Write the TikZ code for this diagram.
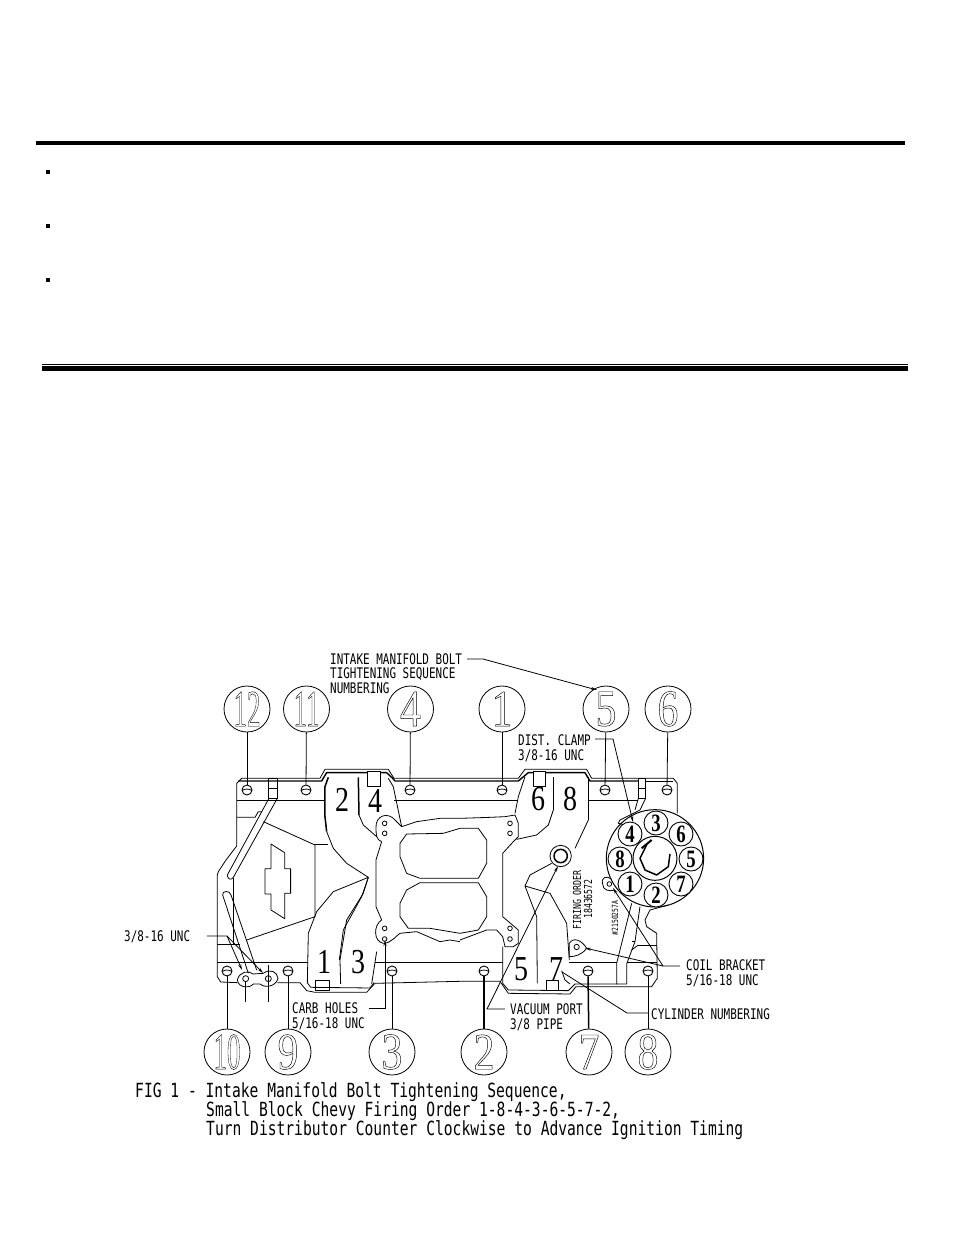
\documentclass[tikz,border=0pt]{standalone}
\usepackage{fontspec}
\usetikzlibrary{arrows.meta}
\setmainfont{Liberation Serif}
\newfontfamily\cadfont[FakeStretch=0.75]{DejaVu Sans Mono}
\newfontfamily\numfont[FakeStretch=0.8]{Liberation Serif}
\newfontfamily\cylfont[FakeStretch=0.75]{Liberation Serif Bold}
\newcommand{\hollow}[1]{\special{pdf:code 1 Tr 0.45 w}#1\special{pdf:code 0 Tr 0.8 w}}
\tikzset{
  thin line/.style={line width=0.8pt},
  heavy line/.style={line width=1.5pt},
  lead/.style={line width=0.8pt,-{Stealth[length=6pt,width=3pt]}},
  seqcircle/.style={circle,draw,line width=0.8pt,minimum size=46pt,inner sep=0pt,font=\numfont\fontsize{52}{52}\selectfont},
  cylcircle/.style={circle,draw,fill=white,line width=0.9pt,minimum size=24pt,inner sep=0pt,font=\cylfont\fontsize{25}{25}\selectfont},
  bolthole/.style={circle,draw,line width=0.9pt,minimum size=10pt,inner sep=0pt,
    path picture={\draw[line width=0.8pt] ([yshift=-0.5pt]path picture bounding box.west) to[bend left=30] ([yshift=-0.5pt]path picture bounding box.east);}},
  cadlabel/.style={anchor=west,inner sep=0pt,align=left,font=\cadfont\fontsize{14.6}{14.6}\selectfont},
  castmark/.style={rotate=90,inner sep=0pt,font=\cadfont\fontsize{11}{11}\selectfont},
  caption/.style={anchor=west,inner sep=0pt,text height=12pt,text depth=3pt,font=\cadfont\fontsize{19.5}{19.5}\selectfont},
  block/.style={font=\numfont\fontsize{35}{35}\selectfont,inner sep=0pt}
}
\begin{document}
\begin{tikzpicture}[x=1pt,y=-1pt]
\useasboundingbox (0,0) rectangle (954,1235);

%% rules and bullets
\fill (36,141) rectangle (905,145);
\fill (45.5,169.5) rectangle (50,173.8);
\fill (45.5,223.5) rectangle (50,227.8);
\fill (45.5,277.5) rectangle (50,281.8);
\fill (42,364) rectangle (908,365);
\fill (42,366) rectangle (908,370.7);

%% left half of the manifold
\begin{scope}[shift={(200,760)},x=0.3333pt,y=-0.3333pt,thin line,line join=round]
  %% outer edge
  \draw (780,55) -- (582,55) -- (565,28) -- (375,28) -- (360,55) -- (125,55) -- (110,70) -- (110,258) -- (78,300) -- (55,335) -- (52,345) -- (52,650) -- (62,666) -- (112,668);
  \draw (232,668) -- (300,668) -- (320,692) -- (345,697) -- (500,697) -- (525,670) -- (780,664);
  \draw (322,668) -- (332,682) -- (510,684) -- (522,668);
  \draw[line width=1.4pt] (115,63) -- (365,63) -- (380,38) -- (560,38) -- (578,55) -- (585,63) -- (780,63);
  \draw (110,122) -- (372,122);
  \draw (582,122) -- (780,122);
  \draw (52,607) -- (325,607);
  \draw (525,607) -- (780,607);
  \draw (110,172) -- (165,172) -- (175,155) -- (185,155);
  %% lugs
  \draw (112,660) .. controls (115,685) and (150,685) .. (160,672) -- (180,672) .. controls (195,685) and (228,680) .. (234,655) .. controls (232,635) and (210,625) .. (190,640) -- (160,642) .. controls (145,630) and (118,635) .. (112,660);
  \draw (137,656) circle (9);
  \draw (205,656) circle (9);
  %% pipes
  \draw (205,55) rectangle (232,115);
  \draw (205,85) -- (232,85);
  \draw (207,115) -- (82,345) .. controls (82,358) and (95,362) .. (100,352) -- (232,115);
  \draw (145,640) -- (68,405) .. controls (65,392) and (90,390) .. (93,405) -- (170,630);
  %% web
  \draw (100,355) -- (100,552);
  \draw (52,552) -- (120,552);
  \draw (140,540) -- (345,470) -- (345,255) -- (190,185);
  \draw (345,253) -- (385,253);
  %% bow tie
  \draw (213,252) -- (254,278) -- (254,326) -- (272,326) -- (272,400) -- (254,400) -- (254,476) -- (213,450) -- (213,402) -- (195,402) -- (195,326) -- (213,326) -- cycle;
  \draw[heavy line] (272,326) -- (272,400);
  %% runners
  \draw[heavy line] (385,52) -- (375,80) -- (375,170) -- (380,215);
  \draw (380,215) -- (400,265) -- (440,310) -- (505,352) -- (400,395) -- (350,455) -- (325,520) -- (322,670);
  \draw (505,352) -- (490,400) -- (440,480) -- (420,600) -- (422,672);
  \draw (505,352) -- (485,410) -- (430,510) -- (418,600);
  \draw (530,575) -- (515,672);
  \draw[heavy line] (475,52) -- (477,165);
  \draw (477,165) -- (490,195) -- (530,230);
  \draw (565,55) -- (580,80) -- (605,200);
  %% carb flange
  \draw (780,175) -- (720,175) -- (650,185) -- (605,200) -- (585,180) .. controls (565,155) and (525,165) .. (528,205) .. controls (528,225) and (530,240) .. (545,245) -- (528,300) -- (528,440) -- (545,480) .. controls (520,495) and (520,545) .. (550,550) .. controls (575,550) and (590,525) .. (600,520) -- (650,515) -- (720,545) -- (750,540) -- (780,545);
  \draw (780,205) -- (730,220) -- (620,222) -- (600,250) -- (600,290) -- (620,340) -- (660,355) -- (780,355);
  \draw (780,368) -- (660,368) -- (620,390) -- (600,430) -- (600,470) -- (625,505) -- (690,505) -- (780,520);
  \draw (554,190) circle (7);
  \draw (554,220) circle (7);
  \draw (554,505) circle (7);
  \draw (554,537) circle (7);
  %% pads
  \draw (345,660) rectangle (388,692);
  \draw[fill=white] (503,35) rectangle (540,78);
\end{scope}

%% right half of the manifold
\begin{scope}[shift={(450,760)},x=0.3333pt,y=-0.3333pt,thin line,line join=round]
  %% outer edge
  \draw (30,55) -- (205,55) -- (225,28) -- (410,28) -- (425,55) -- (670,55) -- (682,70) -- (682,160);
  \draw[line width=1.4pt] (30,63) -- (205,63) -- (235,38) -- (405,38) -- (420,63) -- (565,63);
  \draw (587,63) -- (670,63);
  \draw (30,122) -- (205,122);
  \draw (415,122) -- (565,122);
  \draw (30,664) -- (150,664) -- (175,700) -- (360,702) -- (378,680) -- (605,680) -- (622,655) -- (620,520) -- (590,500) -- (585,480) -- (600,450) -- (655,435);
  \draw (158,560) -- (158,670) -- (175,690) -- (355,692) -- (375,672) -- (502,672);
  \draw (30,607) -- (158,607);
  \draw (358,607) -- (500,607);
  \draw (530,607) -- (620,607);
  %% runners
  \draw (225,50) -- (205,110) -- (195,160);
  \draw[heavy line] (310,52) -- (310,150);
  \draw (310,150) -- (295,195) -- (260,225) -- (200,238);
  \draw[heavy line] (415,52) -- (415,180);
  \draw (415,180) -- (375,265);
  \draw (305,310) -- (240,345) -- (225,378) -- (300,400) -- (350,490) -- (358,600);
  \draw (225,378) -- (260,470) -- (262,670);
  \draw (335,632) -- (345,660) -- (360,672);
  %% carb flange
  \draw (30,175) -- (120,172) -- (165,170) -- (195,165) -- (205,190) -- (205,230) -- (190,245) -- (158,280) -- (158,470) -- (205,510) -- (205,550) -- (190,560) -- (165,560) -- (158,530) -- (140,510) -- (110,510) -- (30,540);
  \draw (30,205) -- (85,205) -- (110,240) -- (110,310) -- (85,355) -- (30,355);
  \draw (30,368) -- (85,368) -- (110,410) -- (110,470) -- (85,510) -- (30,520);
  \draw (180,190) circle (7);
  \draw (180,220) circle (7);
  \draw (180,505) circle (7);
  \draw (180,537) circle (7);
  %% bosses
  \draw (332,288) circle (32);
  \draw[heavy line] (332,288) circle (20);
  \draw (358,590) -- (358,550) .. controls (370,530) and (395,540) .. (410,565) .. controls (395,585) and (375,590) .. (358,590);
  \draw (380,561) circle (8);
  \draw (458,372) .. controls (452,352) and (470,345) .. (485,358);
  \draw (458,372) .. controls (458,392) and (480,395) .. (495,390);
  \draw (478,372) circle (7);
  %% pads
  \draw (288,660) rectangle (325,692);
  \draw[fill=white] (250,35) rectangle (285,78);
  \draw (565,55) rectangle (587,115);
  \draw (565,85) -- (587,85);
  \draw (587,115) -- (570,150) -- (510,180) -- (505,190) -- (525,195);
  \draw (565,115) -- (555,150);
  %% coil side
  \draw (545,430) -- (500,610) -- (500,672) -- (530,672) -- (530,612) -- (555,545) -- (570,440);
  \draw (565,555) -- (620,555);
  \draw (545,570) -- (565,555);
  \draw (545,545) -- (555,545);
  %% distributor
  \draw[line width=1pt] (615,295) circle (146);
  \draw[fill=white,line width=1pt] (615,295) circle (66);
  \draw[heavy line] (660,282) -- (655,320) -- (620,345) -- (585,330) -- (570,295) -- (590,255);
  \draw[line width=2pt] (575,265) -- (605,240);
\end{scope}

%% distributor numbers
\node[cylcircle] (cyl3) at (656,823) {3};
\node[cylcircle] (cyl6) at (681,834) {6};
\node[cylcircle] (cyl5) at (691,859) {5};
\node[cylcircle] (cyl7) at (681,884) {7};
\node[cylcircle] (cyl2) at (656,895) {2};
\node[cylcircle] (cyl1) at (630,884) {1};
\node[cylcircle] (cyl8) at (620,859) {8};
\node[cylcircle] (cyl4) at (630,834) {4};

%% block numbers
\node[block] (blk2) at (342,800) {2};
\node[block] (blk4) at (375,801) {4};
\node[block] (blk1) at (324,962) {1};
\node[block] (blk3) at (358,962) {3};
\node[block] (blk6) at (538,799) {6};
\node[block] (blk8) at (570,799) {8};
\node[block] (blk5) at (521,969) {5};
\node[block] (blk7) at (556,969) {7};

%% cast marks
\node[castmark] (firing) at (577,900) {FIRING ORDER};
\node[castmark] (casting) at (588,899) {18436572};
\node[castmark,font=\cadfont\fontsize{8.5}{8.5}\selectfont] (serial) at (615,918) {\#2150257A};

%% bolt holes
\node[bolthole] (hole12) at (247,790) {};
\node[bolthole] (hole11) at (306,790) {};
\node[bolthole] (hole4) at (410,790) {};
\node[bolthole] (hole1) at (502,790) {};
\node[bolthole] (hole5) at (605,790) {};
\node[bolthole] (hole6) at (667,790) {};
\node[bolthole] (hole10) at (227,971) {};
\node[bolthole] (hole9) at (288,971) {};
\node[bolthole] (hole3) at (392,971) {};
\node[bolthole] (hole2) at (484,971) {};
\node[bolthole] (hole7) at (588,971) {};
\node[bolthole] (hole8) at (648,971) {};

%% tightening sequence
\node[seqcircle] (seq12) at (247,709) {\hollow{\scalebox{0.65}[1]{12}}};
\node[seqcircle] (seq11) at (306.5,709) {\hollow{\scalebox{0.65}[1]{11}}};
\node[seqcircle] (seq4) at (410.5,709) {\hollow{4}};
\node[seqcircle] (seq1) at (502,709) {\hollow{1}};
\node[seqcircle] (seq5) at (606,709) {\hollow{5}};
\node[seqcircle] (seq6) at (668,709) {\hollow{6}};
\node[seqcircle] (seq10) at (227,1052) {\hollow{\scalebox{0.65}[1]{10}}};
\node[seqcircle] (seq9) at (288,1052) {\hollow{9}};
\node[seqcircle] (seq3) at (392,1052) {\hollow{3}};
\node[seqcircle] (seq2) at (484,1052) {\hollow{2}};
\node[seqcircle] (seq7) at (589,1052) {\hollow{7}};
\node[seqcircle] (seq8) at (648,1052) {\hollow{8}};

\draw[thin line] (seq12) -- (hole12);
\draw[thin line] (seq11) -- (hole11);
\draw[thin line] (seq4) -- (hole4);
\draw[thin line] (seq1) -- (hole1);
\draw[thin line] (seq5) -- (hole5);
\draw[thin line] (seq6) -- (hole6);
\draw[thin line] (seq10) -- (hole10);
\draw[thin line] (seq9) -- (hole9);
\draw[thin line] (seq3) -- (hole3);
\draw[heavy line] (seq2) -- (hole2);
\draw[heavy line] (seq7) -- (hole7);
\draw[thin line] (seq8) -- (hole8);
\draw[thin line] (245.7,982) -- (245.7,1001.7);
\draw[thin line] (268.3,965) -- (268.3,1001.7);

%% callouts
\node[cadlabel] (intake) at (330,673.5) {INTAKE MANIFOLD BOLT\\TIGHTENING SEQUENCE\\NUMBERING};
\node[cadlabel] (clamp) at (518,748) {DIST. CLAMP\\3/8-16 UNC};
\node[cadlabel] (unc) at (124,937) {3/8-16 UNC};
\node[cadlabel] (carb) at (292,1016.5) {CARB HOLES\\5/16-18 UNC};
\node[cadlabel] (vacuum) at (510,1017) {VACUUM PORT\\3/8 PIPE};
\node[cadlabel] (coil) at (686,973) {COIL BRACKET\\5/16-18 UNC};
\node[cadlabel] (cylnum) at (651,1014) {CYLINDER NUMBERING};

\draw[lead] (467,659) -- (483,659) -- (597,690);
\draw[lead] (595,739) -- (613,739) -- (633,822);
\draw[lead] (207,936) -- (227,936) -- (242,970);
\draw[lead] (227,936) -- (263,973);
\draw[lead] (369,1008) -- (385,1008) -- (385,940);
\draw[lead] (505,1009) -- (487,1009) -- (558,866);
\draw[lead] (680,966) -- (663,966) -- (613,888);
\draw[lead] (663,966) -- (585,948);
\draw[thin line] (648,1013) -- (627,1013) -- (562,972);

%% figure caption
\node[caption] (cap1) at (135,1093) {FIG 1 - Intake Manifold Bolt Tightening Sequence,};
\node[caption] (cap2) at (206,1112) {Small Block Chevy Firing Order 1-8-4-3-6-5-7-2,};
\node[caption] (cap3) at (206,1131) {Turn Distributor Counter Clockwise to Advance Ignition Timing};

\end{tikzpicture}
\end{document}
